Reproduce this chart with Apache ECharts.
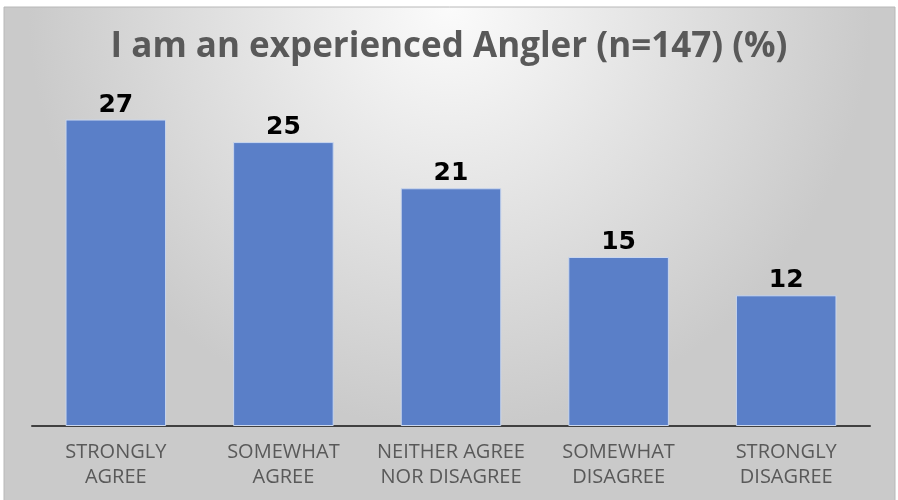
<!DOCTYPE html>
<html>
<head>
<meta charset="utf-8">
<script src="https://cdn.jsdelivr.net/npm/echarts@6/dist/echarts.min.js"></script>
<style>
  html, body { margin: 0; padding: 0; background: #fff; }
  #chart { width: 898px; height: 500px; }
</style>
</head>
<body>
<div id="chart"></div>
<script>
const titleText = 'I am an experienced Angler (n=147) (%)'
const categories = ['STRONGLY\nAGREE', 'SOMEWHAT\nAGREE', 'NEITHER AGREE\nNOR DISAGREE', 'SOMEWHAT\nDISAGREE', 'STRONGLY\nDISAGREE']
const values = [27.2, 25.2, 21.1, 15.0, 11.6]

const chart = echarts.init(document.getElementById('chart'))

const option = {
  animation: false,
  graphic: [{
    type: 'rect',
    z: -10,
    shape: { x: 4, y: 7, width: 891, height: 495 },
    style: {
      fill: {
        type: 'radial', x: 0.5, y: 0.0, r: 0.85,
        colorStops: [
          { offset: 0, color: '#fbfbfb' },
          { offset: 1, color: '#cacaca' }
        ]
      },
      stroke: '#b8b8b8',
      lineWidth: 1
    }
  }],
  title: {
    text: titleText,
    left: 'center',
    top: 25,
    textStyle: {
      fontFamily: 'Open Sans',
      fontSize: 35,
      fontWeight: 'bold',
      color: '#595959'
    }
  },
  grid: {
    left: 32,
    right: 28,
    top: 88,
    bottom: 74
  },
  xAxis: {
    type: 'category',
    data: categories,
    axisLine: { lineStyle: { color: '#404040', width: 2 } },
    axisTick: { show: false },
    axisLabel: {
      interval: 0,
      margin: 14,
      fontFamily: 'Open Sans',
      fontSize: 20,
      lineHeight: 25,
      color: '#595959'
    }
  },
  yAxis: {
    type: 'value',
    min: 0,
    max: 30,
    show: false,
    splitLine: { show: false }
  },
  series: [{
    type: 'bar',
    data: values,
    barWidth: '60%',
    itemStyle: {
      color: '#5a7fc8',
      borderColor: '#c9d6ee',
      borderWidth: 1
    },
    label: {
      show: true,
      position: 'top',
      distance: 2,
      formatter: p => Math.round(p.value),
      fontFamily: 'DejaVu Sans',
      fontSize: 25,
      fontWeight: 'bold',
      color: '#000'
    }
  }]
}

chart.setOption(option)
</script>
</body>
</html>
